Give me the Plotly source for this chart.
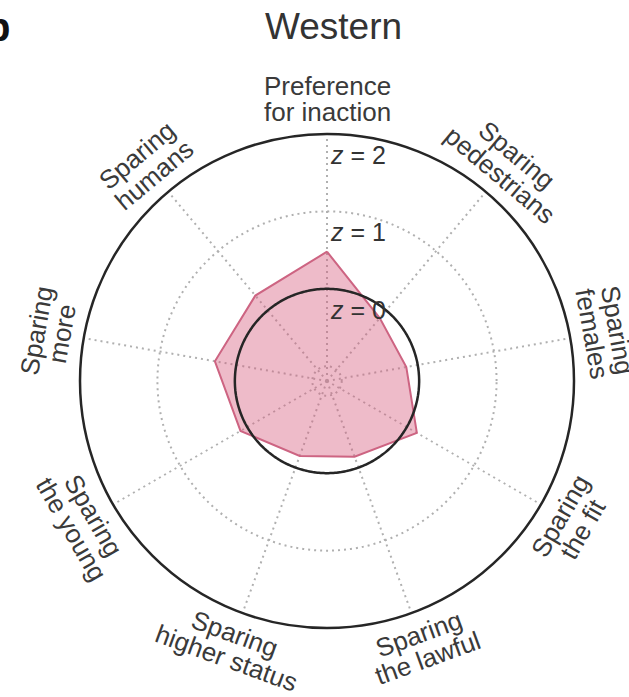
import numpy as np
import plotly.graph_objects as go

# Moral-preference dimensions, clockwise from the top
label_lines = [
    ("Preference", "for inaction"),
    ("Sparing", "pedestrians"),
    ("Sparing", "females"),
    ("Sparing", "the fit"),
    ("Sparing", "the lawful"),
    ("Sparing", "higher status"),
    ("Sparing", "the young"),
    ("Sparing", "more"),
    ("Sparing", "humans"),
]
# Cluster z-scores for the Western cluster
western_z = [0.48, -0.13, -0.15, 0.15, -0.15, -0.16, 0.10, 0.28, 0.25]
# Reference rings and their labels
z_ticks = [0, 1, 2]
z_tick_text = ["<i>z</i> = 0", "<i>z</i> = 1", "<i>z</i> = 2"]
title_text = "Western"

W, H = 629, 697
CX, CY, R = 327, 381, 247          # polar centre and outer radius in px
R_MIN, R_MAX = -1.19, 2.0
FONT = "Liberation Sans, Arial, Helvetica, sans-serif"
TXT = "#3a3a3a"

n = len(label_lines)
angles = [i * 360 / n for i in range(n)]


def px(x, y):
    return x / W, 1 - y / H


def r_px(z):
    return (z - R_MIN) / (R_MAX - R_MIN) * R


fig = go.Figure()

# Cluster profile polygon
fig.add_trace(go.Scatterpolar(
    r=western_z + western_z[:1],
    theta=angles + angles[:1],
    mode="lines",
    fill="toself",
    fillcolor="rgba(214,92,126,0.42)",
    line=dict(color="rgb(205,100,130)", width=2),
    hoverinfo="skip",
))

# Solid ring marking z = 0
ring_theta = np.linspace(0, 360, 361)
fig.add_trace(go.Scatterpolar(
    r=np.zeros_like(ring_theta),
    theta=ring_theta,
    mode="lines",
    line=dict(color="#262626", width=2.5),
    hoverinfo="skip",
))

annotations = []

# Tangential two-line category labels
R_OUT, R_IN = 295, 269
for ang, (first, second) in zip(angles, label_lines):
    rad = np.deg2rad(ang)
    ux, uy = np.sin(rad), -np.cos(rad)
    if ang <= 90 or ang >= 270:
        rot = ang if ang <= 90 else ang - 360
        r1, r2 = R_OUT, R_IN
    else:
        rot = ang - 180
        r1, r2 = R_IN, R_OUT
    for txt, rr in ((first, r1), (second, r2)):
        x, y = px(CX + ux * rr, CY + uy * rr)
        annotations.append(dict(
            x=x, y=y, xref="paper", yref="paper", text=txt,
            showarrow=False, textangle=rot,
            xanchor="center", yanchor="middle",
            font=dict(family=FONT, size=26, color=TXT),
        ))

# Ring labels just inside each ring, right of the top spoke
for zt, zlab in zip(z_ticks, z_tick_text):
    x, y = px(CX + 1, CY - (r_px(zt) - 21))
    annotations.append(dict(
        x=x, y=y, xref="paper", yref="paper", text=zlab,
        showarrow=False, xanchor="left", yanchor="middle",
        font=dict(family=FONT, size=25, color="#333333"),
    ))

# Title
tx, ty = px(333, 27)
annotations.append(dict(
    x=tx, y=ty, xref="paper", yref="paper", text=title_text,
    showarrow=False, xanchor="center", yanchor="middle",
    font=dict(family=FONT, size=37, color="#333333"),
))

# Panel letter
bx, by = px(12, 27)
annotations.append(dict(
    x=bx, y=by, xref="paper", yref="paper", text="<b>b</b>",
    showarrow=False, xanchor="right", yanchor="middle",
    font=dict(family=FONT, size=40, color="#111111"),
))

dx0, dx1 = (CX - R) / W, (CX + R) / W
dy0, dy1 = 1 - (CY + R) / H, 1 - (CY - R) / H

fig.update_layout(
    width=W, height=H,
    margin=dict(l=0, r=0, t=0, b=0),
    paper_bgcolor="white",
    plot_bgcolor="white",
    showlegend=False,
    annotations=annotations,
    polar=dict(
        domain=dict(x=[dx0, dx1], y=[dy0, dy1]),
        bgcolor="white",
        radialaxis=dict(
            range=[R_MIN, R_MAX],
            tickvals=[-1, 0, 1],
            showticklabels=False,
            ticks="",
            showline=False,
            gridcolor="#b0b0b0",
            gridwidth=1.5,
            griddash="2px,4px",
        ),
        angularaxis=dict(
            rotation=90,
            direction="clockwise",
            tickvals=angles,
            showticklabels=False,
            ticks="",
            showline=True,
            linecolor="#262626",
            linewidth=2.5,
            gridcolor="#b0b0b0",
            gridwidth=1.5,
            griddash="2px,4px",
        ),
    ),
)

fig.write_html("out.html")
